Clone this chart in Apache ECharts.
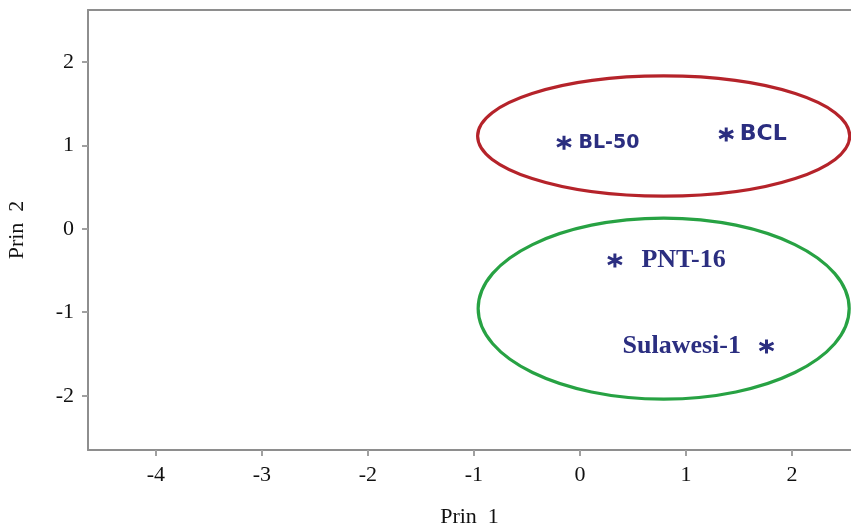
<!DOCTYPE html>
<html>
<head>
<meta charset="utf-8">
<script src="https://cdn.jsdelivr.net/npm/echarts@6/dist/echarts.min.js"></script>
<style>html,body{margin:0;padding:0;background:#fff}#c{width:851px;height:527px}</style>
</head>
<body>
<div id="c"></div>
<script>
// ---- data ----
const names = ['BL-50', 'BCL', 'PNT-16', 'Sulawesi-1'];
const prin1 = [-0.15, 1.38, 0.33, 1.76];
const prin2 = [1.03, 1.13, -0.38, -1.41];
const xTicks = [-4, -3, -2, -1, 0, 1, 2];
const yTicks = [-2, -1, 0, 1, 2];
// group ellipses: centre (Prin 1, Prin 2) and semi-axes in data units
const groupCx = [0.79, 0.79];
const groupCy = [1.11, -0.956];
const groupRx = [1.755, 1.75];
const groupRy = [0.72, 1.084];

// ---- styles ----
const navy = '#2b2e80';
const ellipseColors = ['#b5232a', '#27a243'];
const labelStyles = [
  {position: 'right', distance: 6, fontFamily: 'DejaVu Sans', fontWeight: 'bold', fontSize: 19},
  {position: 'right', distance: 5, fontFamily: 'DejaVu Sans', fontWeight: 'bold', fontSize: 22},
  {position: 'right', distance: 18, fontFamily: 'Liberation Serif', fontWeight: 'bold', fontSize: 26},
  {position: 'left', distance: 17, fontFamily: 'Liberation Serif', fontWeight: 'bold', fontSize: 26}
];
const axisGray = '#8e8e8e';
const serif = 'Liberation Serif';

const chart = echarts.init(document.getElementById('c'), null, {renderer: 'canvas'});

const pointData = names.map((n, i) => ({
  value: [prin1[i], prin2[i]],
  name: n,
  label: Object.assign({show: true, formatter: n, color: navy}, labelStyles[i])
}));

const ellipseData = groupCx.map((cx, i) => [cx, groupCy[i], groupRx[i], groupRy[i]]);

const asterisk = 'path://M5,0L5,10M0.67,2.5L9.33,7.5M0.67,7.5L9.33,2.5';

chart.setOption({
  animation: false,
  grid: {left: 88, right: 0, top: 10, bottom: 77, outerBoundsMode: 'none', containLabel: false},
  xAxis: [{
    type: 'value', min: -4.64, max: 2.557, position: 'bottom',
    name: 'Prin  1', nameLocation: 'middle', nameGap: 56,
    nameTextStyle: {fontFamily: serif, fontSize: 22, color: '#111'},
    axisLine: {show: true, onZero: false, lineStyle: {color: axisGray, width: 2}},
    axisTick: {show: true, length: 6, customValues: xTicks, lineStyle: {color: '#a0a0a0', width: 2}},
    axisLabel: {customValues: xTicks, margin: 14, fontFamily: serif, fontSize: 22, color: '#111'},
    splitLine: {show: false}
  }, {
    type: 'value', min: -4.64, max: 2.557, position: 'top',
    axisLine: {show: true, onZero: false, lineStyle: {color: axisGray, width: 2}},
    axisTick: {show: false}, axisLabel: {show: false}, splitLine: {show: false}
  }],
  yAxis: {
    type: 'value', min: -2.65, max: 2.62,
    name: 'Prin  2', nameLocation: 'middle', nameGap: 60, nameRotate: 90,
    nameTextStyle: {fontFamily: serif, fontSize: 22, color: '#111'},
    axisLine: {show: true, onZero: false, lineStyle: {color: axisGray, width: 2}},
    axisTick: {show: true, length: 6, customValues: yTicks, lineStyle: {color: '#a0a0a0', width: 2}},
    axisLabel: {customValues: yTicks, margin: 14, fontFamily: serif, fontSize: 22, color: '#111'},
    splitLine: {show: false}
  },
  series: [{
    type: 'custom',
    xAxisIndex: 0,
    data: ellipseData,
    clip: true,
    renderItem: function (params, api) {
      const c = api.coord([api.value(0), api.value(1)]);
      const s = api.size([api.value(2), api.value(3)]);
      return {
        type: 'ellipse',
        shape: {cx: c[0], cy: c[1], rx: s[0], ry: s[1]},
        style: {fill: 'none', stroke: ellipseColors[params.dataIndex], lineWidth: 3.2}
      };
    },
    silent: true
  }, {
    type: 'scatter',
    xAxisIndex: 0,
    symbol: asterisk,
    symbolSize: 14,
    itemStyle: {color: 'rgba(0,0,0,0)', borderColor: navy, borderWidth: 3, opacity: 1},
    data: pointData
  }]
});
</script>
</body>
</html>
